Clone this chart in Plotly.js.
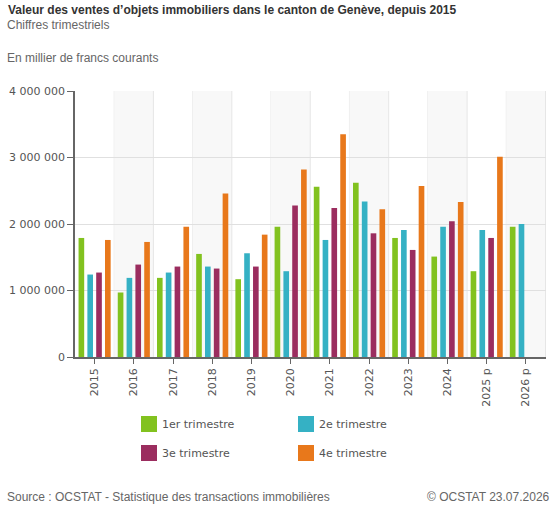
<!DOCTYPE html>
<html>
<head>
<meta charset="utf-8">
<script src="https://cdn.plot.ly/plotly-3.0.1.min.js"></script>
<style>html,body{margin:0;padding:0;background:#fff;}#chart{width:557px;height:510px;}</style>
</head>
<body>
<div id="chart"></div>
<script>
const years = ["2015","2016","2017","2018","2019","2020","2021","2022","2023","2024","2025 p","2026 p"];
const q1 = [1790000, 970000, 1190000, 1550000, 1170000, 1960000, 2560000, 2620000, 1790000, 1510000, 1290000, 1960000];
const q2 = [1240000, 1190000, 1270000, 1360000, 1560000, 1290000, 1760000, 2340000, 1910000, 1960000, 1910000, 2000000];
const q3 = [1270000, 1390000, 1360000, 1330000, 1360000, 2280000, 2240000, 1860000, 1610000, 2040000, 1790000, null];
const q4 = [1760000, 1730000, 1960000, 2460000, 1840000, 2820000, 3350000, 2220000, 2570000, 2330000, 3010000, null];
const seriesNames = ["1er trimestre", "2e trimestre", "3e trimestre", "4e trimestre"];
const colors = ["#82c21f", "#35b1c4", "#9b2d5f", "#e8781b"];

const W = 557, H = 510, L = 75, R = 11, T = 91, B = 153;
const pw = W - L - R, ph = H - T - B;
const xp = px => (px - L) / pw;
const yp = py => (H - B - py) / ph;

const font = "DejaVu Sans, Verdana, sans-serif";
const afont = "Liberation Sans, Arial, sans-serif";

const data = [q1, q2, q3, q4].map((vals, i) => ({
  type: "bar",
  name: seriesNames[i],
  x: years,
  y: vals,
  marker: {color: colors[i], line: {width: 0}},
  hoverinfo: "x+y+name",
  showlegend: false
}));

const shapes = [];
years.forEach((y, i) => {
  if (i % 2 === 1) {
    shapes.push({type: "rect", xref: "x", yref: "paper", x0: i - 0.5, x1: i + 0.5, y0: 0, y1: 1,
      fillcolor: "#f8f8f8", line: {width: 0}, layer: "below"});
  }
  shapes.push({type: "line", xref: "x", yref: "paper", x0: i + 0.5, x1: i + 0.5, y0: 0, y1: 1,
    line: {color: "#e6e6e6", width: 1}, layer: "below"});
});

// manual 2x2 legend
const legCols = [141, 298];
const legRows = [424, 453];
const annotations = [];
seriesNames.forEach((name, i) => {
  const cx = legCols[i % 2], cy = legRows[Math.floor(i / 2)];
  shapes.push({type: "rect", xref: "paper", yref: "paper",
    x0: xp(cx), x1: xp(cx + 16), y0: yp(cy - 8), y1: yp(cy + 8),
    fillcolor: colors[i], line: {width: 0}});
  annotations.push({text: name, x: xp(cx + 19), y: yp(cy), xanchor: "left", yanchor: "middle",
    font: {family: font, size: 11, color: "#555555"}});
});

annotations.push(
  {text: "Chiffres trimestriels", x: xp(5), y: yp(25), xanchor: "left", yanchor: "middle",
   font: {family: afont, size: 12, color: "#666666"}},
  {text: "En millier de francs courants", x: xp(5), y: yp(58), xanchor: "left", yanchor: "middle",
   font: {family: afont, size: 12, color: "#666666"}},
  {text: "Source : OCSTAT - Statistique des transactions immobilières", x: xp(5), y: yp(497), xanchor: "left", yanchor: "middle",
   font: {family: afont, size: 12, color: "#666666"}},
  {text: "© OCSTAT 23.07.2026", x: xp(552), y: yp(497), xanchor: "right", yanchor: "middle",
   font: {family: afont, size: 12, color: "#666666"}}
);
annotations.forEach(a => { a.xref = "paper"; a.yref = "paper"; a.showarrow = false; });

const layout = {
  width: W, height: H,
  margin: {l: L, r: R, t: T, b: B},
  paper_bgcolor: "#ffffff",
  plot_bgcolor: "#ffffff",
  separators: ". ",
  showlegend: false,
  title: {text: "Valeur des ventes d’objets immobiliers dans le canton de Genève, depuis 2015",
    x: 8 / W, xanchor: "left", xref: "container", y: 1 - 10 / H, yanchor: "middle", yref: "container",
    font: {family: afont, size: 12, color: "#333333", weight: "bold"}},
  barmode: "group",
  bargap: 0.1,
  bargroupgap: 0.36,
  xaxis: {
    type: "category",
    tickangle: -90,
    ticks: "outside", ticklen: 5, tickcolor: "#666666",
    showline: true, linecolor: "#666666", linewidth: 1.5,
    showgrid: false,
    tickfont: {family: font, size: 11, color: "#555555"},
    fixedrange: true
  },
  yaxis: {
    range: [0, 4000000],
    dtick: 1000000,
    tickformat: ",d",
    ticks: "outside", ticklen: 6, tickcolor: "#666666",
    showline: true, linecolor: "#666666", linewidth: 1.5,
    gridcolor: "#e0e0e0", gridwidth: 1,
    zeroline: false,
    tickfont: {family: font, size: 11, color: "#555555"},
    fixedrange: true
  },
  shapes: shapes,
  annotations: annotations
};

Plotly.newPlot("chart", data, layout, {displayModeBar: false});
</script>
</body>
</html>
